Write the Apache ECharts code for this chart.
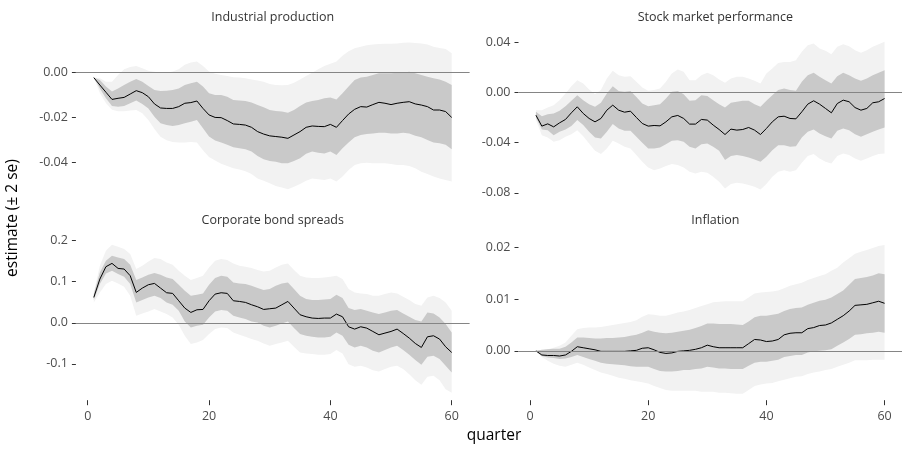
<!DOCTYPE html>
<html><head><meta charset="utf-8">
<script src="https://cdn.jsdelivr.net/npm/echarts@6/dist/echarts.min.js"></script>
<style>html,body{margin:0;padding:0;background:#fff}#c{width:902px;height:449px}</style>
</head><body><div id="c"></div>
<script>
const quarters = [1,2,3,4,5,6,7,8,9,10,11,12,13,14,15,16,17,18,19,20,21,22,23,24,25,26,27,28,29,30,31,32,33,34,35,36,37,38,39,40,41,42,43,44,45,46,47,48,49,50,51,52,53,54,55,56,57,58,59,60];
const xTicks = [0,20,40,60];

// Industrial production
const ipEst = [-0.0022,-0.0055,-0.0087,-0.0119,-0.0114,-0.011,-0.0095,-0.008,-0.0089,-0.0107,-0.0139,-0.0157,-0.0159,-0.0159,-0.0151,-0.0136,-0.0133,-0.0126,-0.0159,-0.0188,-0.0199,-0.02,-0.0213,-0.0228,-0.023,-0.0233,-0.0243,-0.0262,-0.0273,-0.0281,-0.0284,-0.0287,-0.0292,-0.0277,-0.0262,-0.0243,-0.0237,-0.0239,-0.024,-0.023,-0.0243,-0.0213,-0.0184,-0.0163,-0.0151,-0.0153,-0.0142,-0.0132,-0.0136,-0.0142,-0.0136,-0.0132,-0.0129,-0.0139,-0.0144,-0.0151,-0.0166,-0.0166,-0.0173,-0.0199];
const ipHi1 = [-0.0022,-0.0033,-0.0062,-0.0084,-0.007,-0.0055,-0.004,-0.0028,-0.004,-0.0059,-0.0077,-0.0081,-0.008,-0.0077,-0.007,-0.0055,-0.0047,-0.004,-0.0062,-0.0092,-0.0099,-0.0099,-0.0107,-0.0121,-0.0124,-0.0126,-0.0133,-0.0144,-0.0154,-0.0166,-0.017,-0.0173,-0.0178,-0.0166,-0.0148,-0.0133,-0.0126,-0.0121,-0.0114,-0.011,-0.0119,-0.0092,-0.0062,-0.0033,-0.0021,-0.0018,-0.001,-0.0003,-0.0003,-0.0003,0.0,0.0001,0.0004,-0.0003,-0.001,-0.0018,-0.0025,-0.003,-0.004,-0.0055];
const ipLo1 = [-0.0022,-0.007,-0.0114,-0.0148,-0.0151,-0.0148,-0.0136,-0.0124,-0.0139,-0.0159,-0.0196,-0.0225,-0.0233,-0.0237,-0.0233,-0.0225,-0.0218,-0.021,-0.0247,-0.0284,-0.0302,-0.0311,-0.0321,-0.0332,-0.0336,-0.0341,-0.0351,-0.037,-0.0385,-0.0393,-0.0396,-0.0403,-0.0403,-0.0393,-0.0381,-0.0361,-0.0351,-0.0356,-0.0359,-0.0351,-0.0366,-0.0336,-0.0311,-0.0287,-0.0277,-0.0273,-0.027,-0.0267,-0.0267,-0.027,-0.027,-0.0267,-0.027,-0.0281,-0.0287,-0.0299,-0.0311,-0.0314,-0.0321,-0.0341];
const ipHi2 = [-0.0022,-0.0025,-0.004,-0.004,-0.001,0.0015,0.0025,0.003,0.002,0.0008,0.0004,0.0,0.0,0.0005,0.0015,0.0035,0.0045,0.005,0.003,0.0005,-0.0005,-0.001,-0.0015,-0.002,-0.0022,-0.0025,-0.003,-0.0035,-0.004,-0.005,-0.0055,-0.0056,-0.0055,-0.0045,-0.003,-0.0015,0.0,0.0015,0.003,0.004,0.005,0.0075,0.0095,0.0108,0.0115,0.0122,0.0125,0.0127,0.0128,0.0128,0.013,0.0133,0.0134,0.0132,0.013,0.0125,0.0115,0.011,0.0105,0.0086];
const ipLo2 = [-0.0022,-0.009,-0.0135,-0.0165,-0.0172,-0.0172,-0.0168,-0.0166,-0.018,-0.021,-0.025,-0.0285,-0.03,-0.0308,-0.031,-0.031,-0.0308,-0.031,-0.0345,-0.0375,-0.039,-0.0405,-0.0415,-0.0425,-0.043,-0.0438,-0.045,-0.047,-0.048,-0.0492,-0.0504,-0.0511,-0.0518,-0.0507,-0.0495,-0.048,-0.047,-0.0474,-0.0477,-0.047,-0.0484,-0.0462,-0.0433,-0.041,-0.0403,-0.04,-0.0403,-0.0403,-0.0403,-0.0406,-0.041,-0.041,-0.0415,-0.0425,-0.044,-0.045,-0.0462,-0.047,-0.0477,-0.0484];
const ipTicks = [-0.04,-0.02,0];

// Stock market performance
const smEst = [-0.0181,-0.0268,-0.025,-0.0274,-0.0242,-0.0215,-0.0162,-0.0114,-0.0167,-0.0207,-0.0234,-0.0207,-0.0141,-0.0101,-0.0141,-0.0157,-0.0149,-0.0199,-0.0247,-0.0268,-0.0263,-0.0266,-0.0234,-0.0194,-0.0183,-0.0207,-0.0252,-0.0252,-0.0215,-0.022,-0.026,-0.0295,-0.0335,-0.0292,-0.03,-0.0295,-0.0279,-0.03,-0.0335,-0.0287,-0.0234,-0.0194,-0.0189,-0.0207,-0.021,-0.0154,-0.0093,-0.0066,-0.0093,-0.0127,-0.0162,-0.0088,-0.0061,-0.0074,-0.012,-0.0141,-0.0127,-0.0082,-0.0074,-0.0048];
const smHi1 = [-0.0154,-0.0189,-0.0173,-0.0167,-0.0146,-0.0109,-0.0066,-0.0021,-0.0061,-0.0093,-0.0114,-0.0082,-0.0008,0.005,0.0011,0.0005,0.0011,-0.0035,-0.0088,-0.0109,-0.0101,-0.0093,-0.0048,0.0005,0.0011,-0.0013,-0.0066,-0.0061,-0.0021,-0.0027,-0.0061,-0.0093,-0.012,-0.0082,-0.0074,-0.0066,-0.0066,-0.0093,-0.0114,-0.0066,-0.0021,0.0019,0.0032,0.0019,0.0013,0.0085,0.0138,0.0157,0.0125,0.0098,0.0072,0.013,0.0157,0.0138,0.0112,0.0093,0.0112,0.0138,0.0157,0.0178];
const smLo1 = [-0.02,-0.0295,-0.03,-0.034,-0.0313,-0.0295,-0.0268,-0.022,-0.026,-0.0313,-0.0359,-0.0367,-0.0313,-0.0252,-0.0287,-0.0305,-0.0305,-0.0353,-0.0401,-0.0446,-0.0446,-0.0438,-0.0412,-0.0385,-0.038,-0.0393,-0.0433,-0.0446,-0.0412,-0.0406,-0.0433,-0.0465,-0.0539,-0.0507,-0.0499,-0.0507,-0.0518,-0.0534,-0.0552,-0.0513,-0.046,-0.042,-0.042,-0.0433,-0.0428,-0.0359,-0.0313,-0.0295,-0.0327,-0.0348,-0.0367,-0.0305,-0.0287,-0.03,-0.0332,-0.0353,-0.0332,-0.0313,-0.0295,-0.0279];
const smHi2 = [-0.0141,-0.0141,-0.012,-0.0101,-0.0061,-0.0008,0.005,0.0098,0.0072,0.0024,-0.0013,0.0019,0.0112,0.0173,0.0138,0.0125,0.013,0.0085,0.004,0.0013,0.0019,0.0032,0.0085,0.0151,0.0183,0.0165,0.0098,0.0098,0.0138,0.0158,0.0138,0.0104,0.0077,0.0112,0.0125,0.0125,0.0112,0.0093,0.0072,0.0151,0.0191,0.0236,0.0244,0.0244,0.0258,0.0324,0.0377,0.039,0.0351,0.0332,0.0305,0.0364,0.0385,0.0369,0.0337,0.0316,0.0337,0.0364,0.0385,0.0404];
const smLo2 = [-0.022,-0.034,-0.0359,-0.0393,-0.038,-0.0353,-0.0332,-0.03,-0.0348,-0.0406,-0.0465,-0.0491,-0.0446,-0.0385,-0.0406,-0.0433,-0.0446,-0.0499,-0.0552,-0.0598,-0.0619,-0.0606,-0.0587,-0.0571,-0.0579,-0.0598,-0.0632,-0.0645,-0.0632,-0.064,-0.0672,-0.0712,-0.0765,-0.073,-0.072,-0.0725,-0.0738,-0.0752,-0.0773,-0.073,-0.0672,-0.0632,-0.0619,-0.0632,-0.0619,-0.056,-0.0507,-0.0491,-0.0526,-0.0552,-0.0566,-0.0507,-0.0486,-0.0499,-0.0526,-0.0544,-0.0526,-0.0507,-0.0491,-0.0486];
const smTicks = [-0.08,-0.04,0,0.04];

// Corporate bond spreads
const cbEst = [0.0616,0.1062,0.1363,0.1444,0.1322,0.1306,0.1144,0.0738,0.0843,0.0925,0.0957,0.0843,0.073,0.0714,0.0535,0.0357,0.0251,0.0316,0.0324,0.0535,0.0697,0.073,0.0714,0.0535,0.0519,0.0495,0.0438,0.0389,0.0324,0.0341,0.0357,0.0438,0.0519,0.0357,0.0195,0.0146,0.0114,0.0105,0.0114,0.0114,0.0211,0.0146,-0.0097,-0.0154,-0.0097,-0.013,-0.0211,-0.0292,-0.0251,-0.0211,-0.0154,-0.026,-0.0373,-0.0503,-0.06,-0.0341,-0.0316,-0.0397,-0.0584,-0.0722];
const cbHi1 = [0.0697,0.1225,0.1508,0.163,0.159,0.1549,0.1411,0.1038,0.1103,0.1168,0.1208,0.1168,0.1103,0.1062,0.0925,0.0779,0.0657,0.0681,0.0714,0.0925,0.1087,0.1144,0.1119,0.0981,0.0957,0.0941,0.09,0.0843,0.0795,0.0819,0.09,0.0957,0.0981,0.0819,0.0657,0.0576,0.0551,0.0551,0.0568,0.0576,0.0681,0.06,0.0357,0.0308,0.0333,0.0292,0.0251,0.0211,0.0251,0.0292,0.0308,0.0227,0.0146,0.0065,0.0032,0.0251,0.0227,0.013,-0.0032,-0.0235];
const cbLo1 = [0.0551,0.0941,0.12,0.1265,0.1184,0.1119,0.0941,0.0495,0.0551,0.0616,0.0657,0.06,0.0495,0.0438,0.0292,0.0032,-0.0114,-0.0073,-0.0049,0.013,0.0276,0.0308,0.0292,0.017,0.013,0.0089,0.0032,0.0008,-0.0073,-0.0114,-0.0073,-0.0016,0.0032,-0.013,-0.0276,-0.0316,-0.0341,-0.0357,-0.0357,-0.0341,-0.0235,-0.0316,-0.0535,-0.06,-0.056,-0.06,-0.0681,-0.0722,-0.0665,-0.06,-0.056,-0.0665,-0.0779,-0.0908,-0.1022,-0.0827,-0.0803,-0.0884,-0.1046,-0.1208];
const cbHi2 = [0.0738,0.1387,0.1752,0.1898,0.1849,0.1792,0.1671,0.1306,0.1387,0.1492,0.1573,0.1549,0.1468,0.1411,0.1265,0.1144,0.1038,0.1087,0.1144,0.1346,0.1509,0.1549,0.1525,0.1444,0.1387,0.1363,0.133,0.1281,0.1249,0.1265,0.1346,0.1411,0.1444,0.1281,0.1144,0.1103,0.1087,0.1087,0.1103,0.1119,0.1144,0.1062,0.0819,0.0738,0.0714,0.0697,0.0657,0.0657,0.0697,0.0738,0.0714,0.0633,0.0551,0.0454,0.0414,0.0616,0.0657,0.06,0.0495,0.0292];
const cbLo2 = [0.0495,0.0738,0.0941,0.1022,0.0957,0.0876,0.0657,0.017,0.0227,0.0276,0.0333,0.0276,0.0211,0.013,-0.0049,-0.0316,-0.0519,-0.0479,-0.0422,-0.0276,-0.0154,-0.0114,-0.013,-0.0235,-0.0292,-0.0341,-0.0397,-0.0438,-0.0503,-0.056,-0.0519,-0.0479,-0.0438,-0.0584,-0.0722,-0.0746,-0.0762,-0.0779,-0.0779,-0.0762,-0.0665,-0.0746,-0.1006,-0.1071,-0.1046,-0.1087,-0.1152,-0.1184,-0.1127,-0.1071,-0.1046,-0.1127,-0.1249,-0.1395,-0.1509,-0.1314,-0.129,-0.1395,-0.1614,-0.1703];
const cbTicks = [-0.1,0,0.1,0.2];

// Inflation
const inEst = [0,-0.0008,-0.0009,-0.0009,-0.001,-0.0008,-0.0001,0.0008,0.0006,0.0004,0.0002,-0.0001,-0.0001,-0.0001,-0.0001,-0.0001,0,0.0001,0.0005,0.0006,0.0002,-0.0003,-0.0005,-0.0004,-0.0001,0,0.0001,0.0003,0.0006,0.0011,0.0008,0.0006,0.0006,0.0006,0.0006,0.0006,0.0014,0.0022,0.0021,0.0018,0.0019,0.0022,0.0031,0.0034,0.0035,0.0035,0.0043,0.0045,0.0049,0.005,0.0054,0.0061,0.0068,0.0077,0.0088,0.0089,0.009,0.0093,0.0096,0.0092];
const inHi1 = [0,0.0002,0.0003,0.0004,0.0004,0.0008,0.0016,0.0026,0.0026,0.0025,0.0024,0.0024,0.0025,0.0025,0.0026,0.0027,0.0029,0.0031,0.0035,0.004,0.0037,0.0035,0.0034,0.0035,0.0037,0.0039,0.0041,0.0044,0.0048,0.0053,0.0053,0.0052,0.0052,0.0052,0.0051,0.005,0.0057,0.0065,0.0068,0.0068,0.007,0.0072,0.0077,0.0081,0.0083,0.0084,0.0089,0.0093,0.0097,0.0099,0.0103,0.011,0.0117,0.0128,0.0139,0.0141,0.0143,0.0146,0.015,0.0148];
const inLo1 = [-0.0001,-0.001,-0.0013,-0.0014,-0.0016,-0.0015,-0.0012,-0.0008,-0.0012,-0.0016,-0.0019,-0.0023,-0.0025,-0.0026,-0.0027,-0.0028,-0.003,-0.0031,-0.0031,-0.0031,-0.0035,-0.0039,-0.004,-0.004,-0.0039,-0.0037,-0.0037,-0.0035,-0.0034,-0.0031,-0.0032,-0.0034,-0.0034,-0.0035,-0.0035,-0.0035,-0.0029,-0.0023,-0.0021,-0.0021,-0.0019,-0.0017,-0.0012,-0.001,-0.0008,-0.0008,-0.0003,-0.0001,0,0.0001,0.0003,0.001,0.0016,0.0023,0.0031,0.0032,0.0034,0.0035,0.0037,0.0035];
const inHi2 = [0,0.0001,0.0003,0.0006,0.001,0.0016,0.0029,0.0042,0.0044,0.0045,0.0045,0.0046,0.0048,0.005,0.0052,0.0054,0.0056,0.0059,0.0066,0.0071,0.007,0.0068,0.0068,0.0071,0.0074,0.0076,0.0079,0.0083,0.0087,0.009,0.0094,0.0095,0.0096,0.0096,0.0096,0.0096,0.0103,0.0111,0.0113,0.0114,0.0115,0.0117,0.0121,0.0126,0.0129,0.0132,0.0137,0.0141,0.0145,0.0148,0.0155,0.0161,0.0171,0.0179,0.0188,0.0192,0.0195,0.0199,0.0203,0.0205];
const inLo2 = [-0.0001,-0.0012,-0.0019,-0.0025,-0.0029,-0.0031,-0.0027,-0.0023,-0.0027,-0.0032,-0.0037,-0.0042,-0.0045,-0.0048,-0.0052,-0.0054,-0.0057,-0.0059,-0.0061,-0.0063,-0.0068,-0.0072,-0.0076,-0.0077,-0.0077,-0.0077,-0.0077,-0.0077,-0.0079,-0.0079,-0.0079,-0.0081,-0.0081,-0.0082,-0.0083,-0.0083,-0.0076,-0.0068,-0.0065,-0.0063,-0.0062,-0.0059,-0.0056,-0.0053,-0.005,-0.0049,-0.0045,-0.0042,-0.004,-0.0037,-0.0035,-0.0031,-0.0027,-0.0023,-0.0018,-0.0018,-0.0018,-0.0017,-0.0017,-0.0017];
const inTicks = [0,0.01,0.02];

const FONT = "'Open Sans', 'Noto Sans', sans-serif";
const LIGHT = '#f2f2f2', DARK = '#c9c9c9';

const panels = [
  {title:'Industrial production', est:ipEst, hi1:ipHi1, lo1:ipLo1, hi2:ipHi2, lo2:ipLo2, ticks:ipTicks, dec:2, min:-0.0551, max:0.0175, left:75.9, top:33.3, bottom:false},
  {title:'Stock market performance', est:smEst, hi1:smHi1, lo1:smLo1, hi2:smHi2, lo2:smLo2, ticks:smTicks, dec:2, min:-0.0830, max:0.0472, left:518.5, top:33.3, bottom:false},
  {title:'Corporate bond spreads', est:cbEst, hi1:cbHi1, lo1:cbLo1, hi2:cbHi2, lo2:cbLo2, ticks:cbTicks, dec:1, min:-0.1883, max:0.2088, left:75.9, top:236.9, bottom:true},
  {title:'Inflation', est:inEst, hi1:inHi1, lo1:inLo1, hi2:inHi2, lo2:inLo2, ticks:inTicks, dec:2, min:-0.00955, max:0.02205, left:518.5, top:236.9, bottom:true}
];
const GW = 393.7, GH = 163.3;

function bandSeries(idx, lo, hi, color, z){
  return {
    type:'custom', xAxisIndex:idx, yAxisIndex:idx, z:z, silent:true,
    data: quarters.map((q,i)=>[q, lo[i], hi[i]]),
    encode:{x:0, y:[1,2]},
    renderItem: function(params, api){
      if (params.dataIndex !== 0) return null;
      const pts = [];
      for (let i=0;i<quarters.length;i++) pts.push(api.coord([quarters[i], hi[i]]));
      for (let i=quarters.length-1;i>=0;i--) pts.push(api.coord([quarters[i], lo[i]]));
      return {type:'polygon', shape:{points:pts}, style:{fill:color, stroke:null}};
    }
  };
}

const grid=[], xAxis=[], yAxis=[], series=[], graphic=[];
panels.forEach((p, idx)=>{
  grid.push({left:p.left, top:p.top, width:GW, height:GH, containLabel:false});
  xAxis.push({
    type:'value', gridIndex:idx, min:-1.95, max:62.95, position:'bottom',
    splitLine:{show:false}, axisLine:{show:false, onZero:false},
    axisTick:{show:p.bottom, length:5, customValues:xTicks, lineStyle:{color:'#333', width:1}},
    axisLabel:{show:p.bottom, customValues:xTicks, margin:10, color:'#4d4d4d', fontSize:12.5, fontFamily:FONT, formatter:v=>String(v)}
  });
  yAxis.push({
    type:'value', gridIndex:idx, min:p.min, max:p.max, position:'left',
    splitLine:{show:false}, axisLine:{show:false, onZero:false},
    axisTick:{show:true, length:4, customValues:p.ticks, lineStyle:{color:'#333', width:1}},
    axisLabel:{customValues:p.ticks, margin:8, color:'#4d4d4d', fontSize:12.5, fontFamily:FONT, formatter:v=>Number(v).toFixed(p.dec).replace(/^-0\.0+$/, m=>m.slice(1))}
  });
  series.push(bandSeries(idx, p.lo2, p.hi2, LIGHT, 1));
  series.push(bandSeries(idx, p.lo1, p.hi1, DARK, 2));
  series.push({
    type:'line', xAxisIndex:idx, yAxisIndex:idx, z:3, silent:true,
    data:[], symbol:'none',
    markLine:{silent:true, symbol:'none', animation:false, label:{show:false},
      lineStyle:{color:'#858585', width:1, type:'solid'}, data:[{yAxis:0}]}
  });
  series.push({
    type:'line', xAxisIndex:idx, yAxisIndex:idx, z:4, silent:true,
    data: quarters.map((q,i)=>[q, p.est[i]]),
    symbol:'none', lineStyle:{color:'#000', width:1}
  });
  graphic.push({type:'text', x:p.left+GW/2, y:p.top-16, style:{text:p.title, fill:'#333', font:'12.5px '+FONT, textAlign:'center', textVerticalAlign:'middle'}});
});
graphic.push({type:'text', x:494, y:436, style:{text:'quarter', fill:'#000', font:'15.5px '+FONT, textAlign:'center', textVerticalAlign:'middle'}});
graphic.push({type:'text', x:13, y:218, rotation:Math.PI/2, style:{text:'estimate (± 2 se)', fill:'#000', font:'15.5px '+FONT, textAlign:'center', textVerticalAlign:'middle'}});

const chart = echarts.init(document.getElementById('c'), null, {renderer:'canvas'});
chart.setOption({animation:false, backgroundColor:'#fff', grid, xAxis, yAxis, series, graphic});
</script></body></html>
